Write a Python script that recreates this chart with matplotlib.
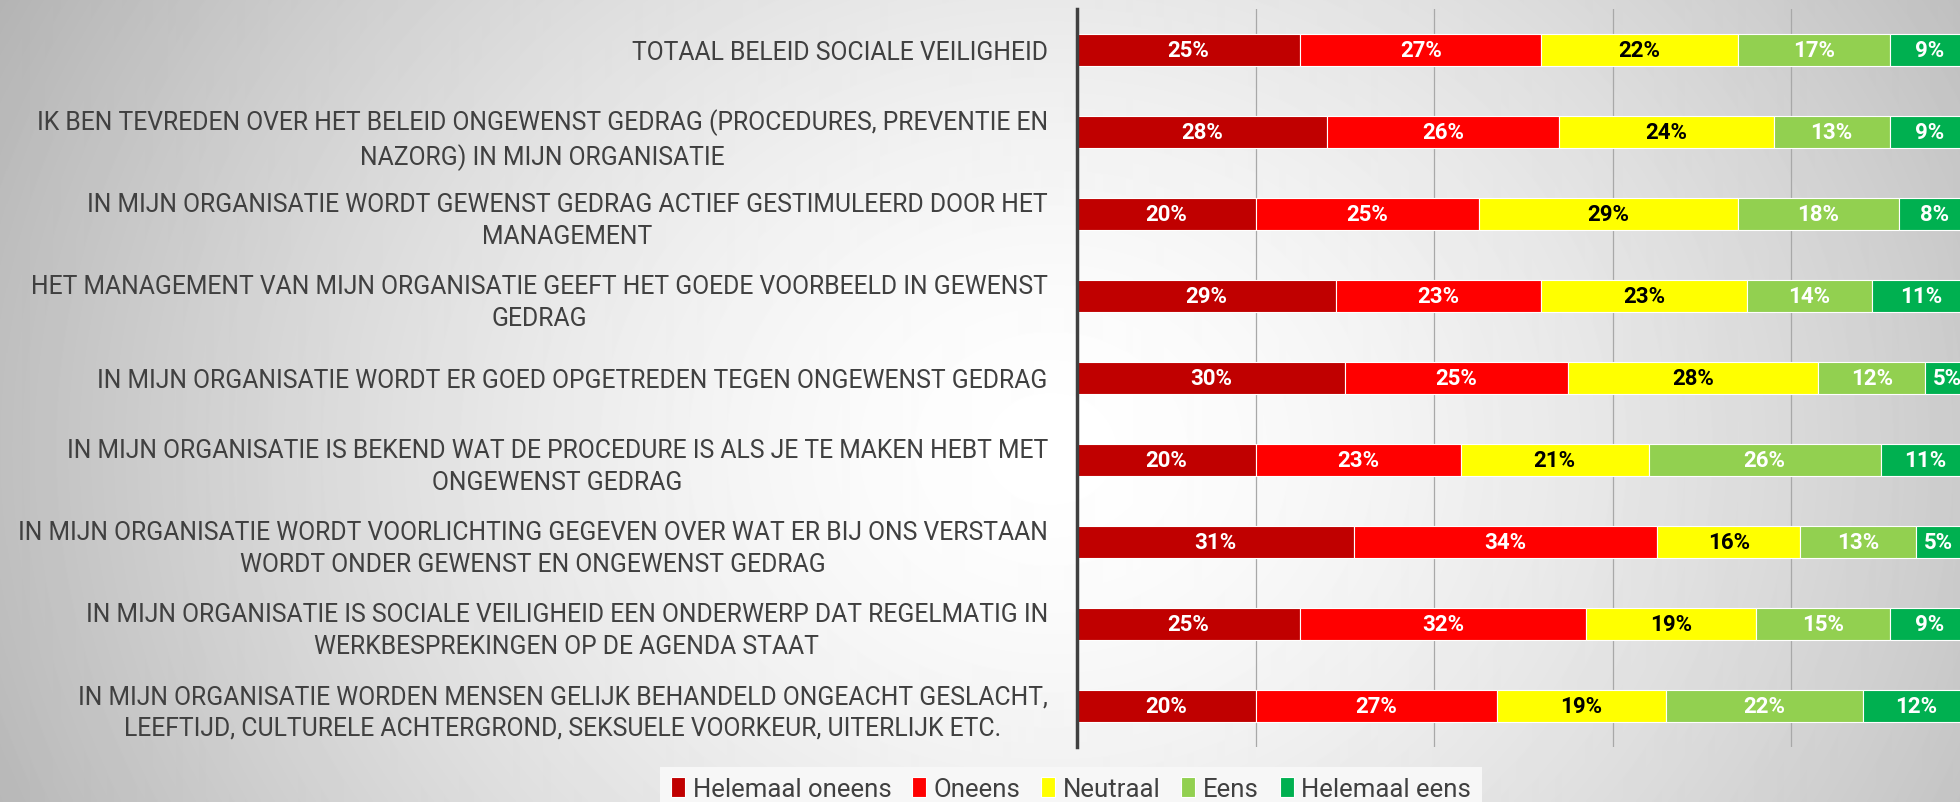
import numpy as np
import matplotlib
matplotlib.use("Agg")
import matplotlib.pyplot as plt

# categorieën (van boven naar beneden)
categories = [
    "TOTAAL BELEID SOCIALE VEILIGHEID",
    "IK BEN TEVREDEN OVER HET BELEID ONGEWENST GEDRAG (PROCEDURES, PREVENTIE EN\nNAZORG) IN MIJN ORGANISATIE",
    "IN MIJN ORGANISATIE WORDT GEWENST GEDRAG ACTIEF GESTIMULEERD DOOR HET\nMANAGEMENT",
    "HET MANAGEMENT VAN MIJN ORGANISATIE GEEFT HET GOEDE VOORBEELD IN GEWENST\nGEDRAG",
    "IN MIJN ORGANISATIE WORDT ER GOED OPGETREDEN TEGEN ONGEWENST GEDRAG",
    "IN MIJN ORGANISATIE IS BEKEND WAT DE PROCEDURE IS ALS JE TE MAKEN HEBT MET\nONGEWENST GEDRAG",
    "IN MIJN ORGANISATIE WORDT VOORLICHTING GEGEVEN OVER WAT ER BIJ ONS VERSTAAN\nWORDT ONDER GEWENST EN ONGEWENST GEDRAG",
    "IN MIJN ORGANISATIE IS SOCIALE VEILIGHEID EEN ONDERWERP DAT REGELMATIG IN\nWERKBESPREKINGEN OP DE AGENDA STAAT",
    "IN MIJN ORGANISATIE WORDEN MENSEN GELIJK BEHANDELD ONGEACHT GESLACHT,\nLEEFTIJD, CULTURELE ACHTERGROND, SEKSUELE VOORKEUR, UITERLIJK ETC.",
]

series_names = ["Helemaal oneens", "Oneens", "Neutraal", "Eens", "Helemaal eens"]

helemaal_oneens = [25, 28, 20, 29, 30, 20, 31, 25, 20]
oneens = [27, 26, 25, 23, 25, 23, 34, 32, 27]
neutraal = [22, 24, 29, 23, 28, 21, 16, 19, 19]
eens = [17, 13, 18, 14, 12, 26, 13, 15, 22]
helemaal_eens = [9, 9, 8, 11, 5, 11, 5, 9, 12]

colors = ["#C00000", "#FF0000", "#FFFF00", "#92D050", "#00B050"]
label_colors = ["white", "white", "black", "white", "white"]

plt.rcParams["font.family"] = ["Roboto", "DejaVu Sans"]

W, H = 1960, 803
fig = plt.figure(figsize=(W / 100, H / 100), dpi=100)

# achtergrond met grijze radiale gradient
bg = fig.add_axes([0, 0, 1, 1], zorder=-1)
xx, yy = np.meshgrid(np.arange(W), np.arange(H))
d = np.sqrt(((xx - 1050) / 1050.0) ** 2 + ((yy - 450) / 900.0) ** 2)
grey = np.clip(1 - 0.25 * d ** 1.5, 0, 1)
bg.imshow(grey, cmap="gray", vmin=0, vmax=1, aspect="auto", interpolation="bilinear")
bg.axis("off")

ax = fig.add_axes([1077 / W, 1 - 748 / H, (1970 - 1077) / W, (748 - 10) / H])
ax.patch.set_alpha(0)

y = np.arange(len(categories))
series = [helemaal_oneens, oneens, neutraal, eens, helemaal_eens]
left = np.zeros(len(categories))
for vals, name, col, lcol in zip(series, series_names, colors, label_colors):
    vals = np.array(vals, dtype=float)
    bars = ax.barh(y, vals, left=left, height=0.4, color=col, edgecolor="white",
                   linewidth=0.8, label=name, zorder=3)
    ax.bar_label(bars, labels=[f"{v:.0f}%" for v in vals], label_type="center",
                 color=lcol, fontsize=16, fontweight="bold", zorder=4)
    left += vals

ax.set_xlim(0, 100)
ax.set_ylim(len(categories) - 0.5, -0.5)
ax.set_xticks([0, 20, 40, 60, 80, 100])
ax.tick_params(axis="x", length=0, labelbottom=False)
ax.grid(axis="x", color="#a8a8a8", linewidth=0.9, zorder=0)
ax.set_yticks(y)
ax.set_yticklabels(categories, fontsize=17.8, color="#404040", multialignment="center",
                   linespacing=1.38)
ax.tick_params(axis="y", length=0, pad=21)

for s in ["top", "right", "bottom"]:
    ax.spines[s].set_visible(False)
ax.spines["left"].set_color("#404040")
ax.spines["left"].set_linewidth(2.5)
ax.spines["left"].set_zorder(5)

leg = ax.legend(loc="center", bbox_to_anchor=(1071 / W, 0.016), bbox_transform=fig.transFigure,
                ncol=5, frameon=True, fontsize=18.5, labelcolor="#404040",
                facecolor="#f7f7f7", edgecolor="none", framealpha=1, fancybox=False,
                borderpad=0.4, handlelength=0.55, handleheight=0.8, handletextpad=0.3,
                columnspacing=0.8)

fig.savefig("out.png", dpi=100)
